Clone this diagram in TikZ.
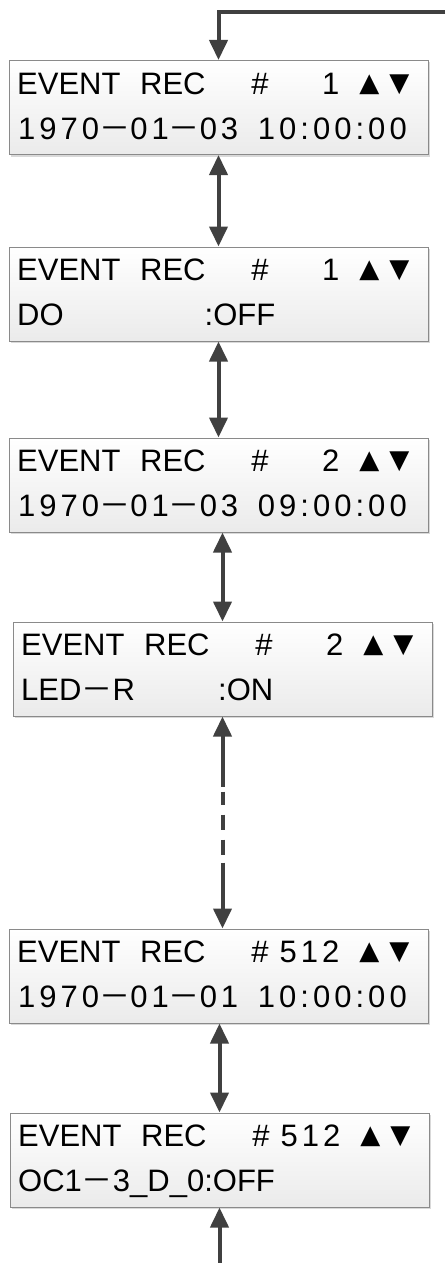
\documentclass[tikz,border=0pt]{standalone}
\usepackage{fontspec}
\setmainfont{Liberation Sans}
\newfontfamily\symfont{DejaVu Sans}
\newfontfamily\cjkfont{Noto Sans CJK JP}
\newfontfamily\spacedfont[LetterSpace=13]{Liberation Sans}
\usetikzlibrary{arrows.meta,shadows,positioning}

\definecolor{linkgray}{HTML}{404040}
\definecolor{framegray}{HTML}{8A8A8A}

\newcommand{\fwdash}{{\cjkfont －}}
\newcommand{\rechead}[1]{\makebox[123pt][l]{EVENT}\makebox[111.2pt][l]{REC}\makebox[88pt][l]{\#\hfill{\spacedfont #1}}%
  \hspace{20pt}{\symfont\fontsize{26}{26}\selectfont\raisebox{3pt}{▲}\hspace{10pt}\raisebox{3pt}{▼}}}

\begin{document}
\begin{tikzpicture}[x=1pt,y=1pt,>={Triangle[width=18pt,length=20pt]},
  screen/.style={draw=framegray,line width=1pt,top color=white,bottom color=black!8,
    minimum width=419pt,minimum height=94pt,inner sep=0pt,
    drop shadow={shadow xshift=2pt,shadow yshift=-2pt,opacity=.3}},
  lcd/.style={anchor=base west,inner sep=0pt,font=\fontsize{31}{37}\selectfont},
  link/.style={draw=linkgray,line width=4pt}]
\useasboundingbox (0,0) rectangle (445,-1263);

% screens
\node[screen] (s1) at (218.5,-107.5) {};
\node[screen] (s2) at (218.5,-294) {};
\node[screen] (s3) at (218.5,-485) {};
\node[screen] (s4) at (222.5,-669) {};
\node[screen] (s5) at (218.5,-976) {};
\node[screen] (s6) at (219.5,-1160) {};

% texts
\node[lcd] (s1a) at ([shift={(8.5,-34)}]s1.north west) {\rechead{1}};
\node[lcd] (s1b) at ([shift={(9.5,-79)}]s1.north west) {\spacedfont 1970\fwdash 01\fwdash 03\hspace{7pt} 10:00:00};
\node[lcd] (s2a) at ([shift={(8.5,-34)}]s2.north west) {\rechead{1}};
\node[lcd] (s2b) at ([shift={(8.5,-79)}]s2.north west) {\makebox[187.5pt][l]{DO}:OFF};
\node[lcd] (s3a) at ([shift={(8.5,-34)}]s3.north west) {\rechead{2}};
\node[lcd] (s3b) at ([shift={(9.5,-79)}]s3.north west) {\spacedfont 1970\fwdash 01\fwdash 03\hspace{7pt} 09:00:00};
\node[lcd] (s4a) at ([shift={(8.5,-34)}]s4.north west) {\rechead{2}};
\node[lcd] (s4b) at ([shift={(8.5,-79)}]s4.north west) {\makebox[197pt][l]{LED\fwdash R}:ON};
\node[lcd] (s5a) at ([shift={(8.5,-34)}]s5.north west) {\rechead{512}};
\node[lcd] (s5b) at ([shift={(9.5,-79)}]s5.north west) {\spacedfont 1970\fwdash 01\fwdash 01\hspace{7pt} 10:00:00};
\node[lcd] (s6a) at ([shift={(8.5,-34)}]s6.north west) {\rechead{512}};
\node[lcd] (s6b) at ([shift={(8.5,-79)}]s6.north west) {OC1\fwdash 3\_D\_0:OFF};

% connectors
\coordinate (entry) at (445,-12);
\coordinate (exit) at (219.5,-1263);
\draw[link,->] (entry) -| (s1.north);
\draw[link,<->] (s1.south) -- (s2.north);
\draw[link,<->] (s2.south) -- (s3.north);
\draw[link,<->] (s3.south -| s4.north) -- (s4.north);
\draw[link,<->,dash pattern=on 51pt off 5pt on 13pt off 10pt on 15pt off 10pt on 15pt off 8pt on 300pt]
  (s4.south) -- (s4.south |- s5.north);
\draw[link,<->] (s5.south -| s6.north) -- (s6.north);
\draw[link,->] (exit) -- (s6.south);
\end{tikzpicture}
\end{document}
